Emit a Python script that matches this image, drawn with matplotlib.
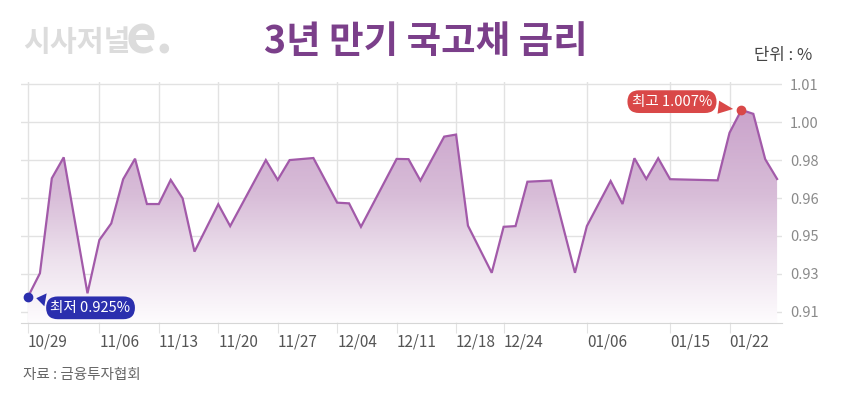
import numpy as np
import matplotlib
matplotlib.use("Agg")
import matplotlib.pyplot as plt
from matplotlib.colors import LinearSegmentedColormap
from matplotlib.patches import PathPatch

plt.rcParams['font.family'] = ['Noto Sans CJK KR', 'DejaVu Sans']

# trading-day index (0 = 10/29) and rate (%)
day = [0, 1, 2, 3, 5, 6, 7, 8, 9, 10, 11, 12, 13, 14, 16, 17, 20, 21, 22, 24,
       26, 27, 28, 31, 32, 33, 35, 36, 37, 39, 40, 41, 42, 44, 46, 47, 49, 50,
       51, 52, 53, 54, 58, 59, 60, 61, 62, 63]
rate = [0.925, 0.9353, 0.9770, 0.9862, 0.9265, 0.9499, 0.9572, 0.9766, 0.9856,
        0.9657, 0.9657, 0.9763, 0.9682, 0.9448, 0.9656, 0.9560, 0.9850, 0.9763,
        0.9850, 0.9859, 0.9663, 0.9660, 0.9557, 0.9855, 0.9854, 0.9760, 0.9953,
        0.9962, 0.9562, 0.9355, 0.9557, 0.9560, 0.9755, 0.9760, 0.9355, 0.9560,
        0.9758, 0.9657, 0.9858, 0.9767, 0.9858, 0.9766, 0.9761, 0.9970, 1.007,
        1.0053, 0.9854, 0.9767]

xtick_pos = [0, 6, 11, 16, 21, 26, 31, 36, 40, 47, 54, 59]
xtick_lab = ['10/29', '11/06', '11/13', '11/20', '11/27', '12/04', '12/11',
             '12/18', '12/24', '01/06', '01/15', '01/22']

ytick_pos = [0.9184, 0.9350, 0.9517, 0.9683, 0.9850, 1.0016, 1.0183]
ytick_lab = ['0.91', '0.93', '0.95', '0.96', '0.98', '1.00', '1.01']

line_col = '#a25aa9'
grid_col = '#e2e2e2'

fig = plt.figure(figsize=(8.51, 4.0), dpi=100)
ax = fig.add_axes([0.0247, 0.1933, 0.8939, 0.6018])

x0, x1 = -0.59, 63.39
y0, y1 = 0.9136, 1.0193
ax.set_xlim(x0, x1)
ax.set_ylim(y0, y1)

# gradient fill under the line
poly = ax.fill_between(day, rate, y0, facecolor='none', edgecolor='none')
clip = PathPatch(poly.get_paths()[0], transform=ax.transData,
                 facecolor='none', edgecolor='none')
ax.add_patch(clip)
cmap = LinearSegmentedColormap.from_list(
    'fade', [(0, '#fefcfe'), (0.3, '#ede1ed'), (0.6, '#d8bdd8'), (1, '#caa3cb')])
grad = np.linspace(0, 1, 256).reshape(-1, 1)
im = ax.imshow(grad, extent=[x0, x1, y0, max(rate)], origin='lower',
               aspect='auto', cmap=cmap, zorder=1)
im.set_clip_path(clip)

ax.plot(day, rate, color=line_col, lw=1.6, zorder=3, solid_joinstyle='miter')

# grid + axes
ax.set_xticks(xtick_pos)
ax.set_xticklabels(xtick_lab, ha='left')
ax.set_yticks(ytick_pos)
ax.set_yticklabels(ytick_lab)
ax.grid(True, color=grid_col, lw=1, zorder=0)
ax.set_axisbelow(True)
for s in ['top', 'left', 'right']:
    ax.spines[s].set_visible(False)
ax.spines['bottom'].set_color('#d6d6d6')
ax.tick_params(axis='x', length=7, color=grid_col, labelsize=11,
               labelcolor='#555555', pad=1)
ax.tick_params(axis='y', length=0, labelsize=10.5, labelcolor='#8a8a8a',
               pad=6, left=False, right=False, labelleft=False, labelright=True)

# max / min markers
imax = int(np.argmax(rate))
imin = int(np.argmin(rate))
ax.scatter([day[imax]], [rate[imax]], s=36, color='#d94848', zorder=5)
ax.scatter([day[imin]], [rate[imin]], s=36, color='#2b2fae', zorder=5)

ax.annotate('최고 {:.3f}%'.format(rate[imax]), xy=(day[imax], rate[imax]),
            xytext=(-50, 6), textcoords='offset points', ha='center', va='center',
            fontsize=10.5, fontweight='medium', color='white', zorder=6,
            bbox=dict(boxstyle='round,pad=0.3,rounding_size=0.8', fc='#d94848', ec='none'),
            arrowprops=dict(arrowstyle='wedge,tail_width=0.9,shrink_factor=0.5',
                            fc='#d94848', ec='none', shrinkB=6))
ax.annotate('최저 {:.3f}%'.format(rate[imin]), xy=(day[imin], rate[imin]),
            xytext=(45, -8), textcoords='offset points', ha='center', va='center',
            fontsize=10.5, fontweight='medium', color='white', zorder=6,
            bbox=dict(boxstyle='round,pad=0.3,rounding_size=0.8', fc='#2b2fae', ec='none'),
            arrowprops=dict(arrowstyle='wedge,tail_width=0.9,shrink_factor=0.5',
                            fc='#2b2fae', ec='none', shrinkB=6))

# texts
fig.text(0.5, 0.895, '3년 만기 국고채 금리', ha='center', va='center',
         fontsize=27, fontweight='bold', color='#7b3f8a')
fig.text(0.027, 0.895, '시사저널', ha='left', va='center', fontsize=21,
         fontweight='bold', color='#dcdcdc')
fig.text(0.148, 0.905, 'e.', ha='left', va='center', fontsize=38,
         fontweight='bold', color='#dcdcdc')
fig.text(0.954, 0.862, '단위 : %', ha='right', va='center', fontsize=12,
         color='#444444')
fig.text(0.027, 0.062, '자료 : 금융투자협회', ha='left', va='center',
         fontsize=10.5, color='#666666')

fig.savefig('out.png', dpi=100)
